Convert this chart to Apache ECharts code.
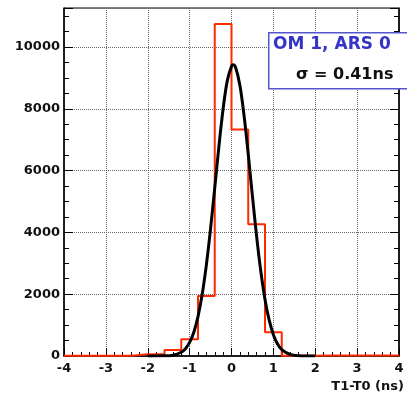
<!DOCTYPE html>
<html>
<head>
<meta charset="utf-8">
<script src="https://cdn.jsdelivr.net/npm/echarts@6/dist/echarts.min.js"></script>
<style>html,body{margin:0;padding:0;background:#fff}#c{width:407px;height:397px}</style>
</head>
<body>
<div id="c"></div>
<script>
// Histogram bin left edges (bin width 0.4 ns) and counts
var binEdges = [-4.0, -3.6, -3.2, -2.8, -2.4, -2.0, -1.6, -1.2, -0.8, -0.4, 0.0, 0.4, 0.8, 1.2, 1.6, 2.0, 2.4, 2.8, 3.2, 3.6];
var binCounts = [5, 5, 8, 10, 55, 60, 195, 540, 1940, 10740, 7330, 4260, 770, 10, 5, 20, 20, 20, 20, 20];
var histEnd = 4.0;

// Gaussian fit curve
var fitX = [-2.0, -1.6, -1.4, -1.2, -1.1, -1.0, -0.9, -0.8, -0.7, -0.6, -0.5, -0.4, -0.3, -0.2, -0.1, 0.0, 0.04, 0.1, 0.2, 0.3, 0.4, 0.5, 0.6, 0.7, 0.8, 0.9, 1.0, 1.1, 1.2, 1.4, 1.6, 2.0];
var fitY = [0, 5, 26, 121, 237, 439, 770, 1275, 1995, 2950, 4122, 5442, 6788, 8001, 8911, 9377, 9420, 9324, 8760, 7777, 6524, 5171, 3873, 2740, 1832, 1158, 691, 390, 208, 50, 10, 0];

var xTicks = [-4, -3, -2, -1, 0, 1, 2, 3, 4];
var yTicks = [0, 2000, 4000, 6000, 8000, 10000];
var xTitle = 'T1-T0 (ns)';
var boxLine1 = 'OM 1, ARS 0';
var boxLine2 = '\u03c3 = 0.41ns';

var histData = binEdges.map(function (e, i) { return [e, binCounts[i]]; });
histData.push([histEnd, binCounts[binCounts.length - 1]]);
var fitData = fitX.map(function (x, i) { return [x, fitY[i]]; });

var FONT = 'DejaVu Sans';
var chart = echarts.init(document.getElementById('c'), null, {renderer: 'canvas'});
var yMax = 11260;
chart.setOption({
  animation: false,
  backgroundColor: '#fff',
  grid: {left: 64, right: 1, top: 8, bottom: 41, show: true, borderColor: '#000', borderWidth: 1},
  xAxis: {
    type: 'value', min: xTicks[0], max: xTicks[xTicks.length - 1], interval: 1,
    axisLine: {onZero: false, lineStyle: {color: '#000', width: 1.5}},
    axisTick: {inside: true, length: 8, lineStyle: {color: '#000', width: 1}},
    minorTick: {show: true, splitNumber: 5, length: 4, lineStyle: {color: '#000', width: 1}},
    splitLine: {show: true, lineStyle: {type: 'dotted', color: '#666', width: 1}},
    axisLabel: {fontFamily: FONT, fontWeight: 'bold', fontSize: 13, color: '#111', margin: 6,
      formatter: function (v) { return String(v); }},
    name: xTitle, nameLocation: 'end', nameGap: 0,
    nameTextStyle: {fontFamily: FONT, fontWeight: 'bold', fontSize: 13, color: '#111', align: 'right', verticalAlign: 'top', padding: [24, -5, 0, 0]}
  },
  yAxis: [{
    type: 'value', min: 0, max: yMax, interval: 2000, position: 'left',
    axisLine: {show: true, onZero: false, lineStyle: {color: '#000', width: 1.5}},
    axisTick: {inside: true, length: 9, lineStyle: {color: '#000', width: 1}},
    minorTick: {show: true, splitNumber: 4, length: 5, lineStyle: {color: '#000', width: 1}},
    splitLine: {show: true, lineStyle: {type: 'dotted', color: '#666', width: 1}},
    axisLabel: {fontFamily: FONT, fontWeight: 'bold', fontSize: 13, color: '#111', margin: 4, showMaxLabel: false,
      formatter: function (v) { return yTicks.indexOf(v) >= 0 ? String(v) : ''; }}
  }, {
    type: 'value', min: 0, max: yMax, interval: 2000, position: 'right',
    axisLine: {show: true, onZero: false, lineStyle: {color: '#000', width: 1.5}},
    axisTick: {inside: true, length: 9, lineStyle: {color: '#000', width: 1}},
    minorTick: {show: true, splitNumber: 4, length: 5, lineStyle: {color: '#000', width: 1}},
    splitLine: {show: false},
    axisLabel: {show: false}
  }],
  series: [{
    type: 'line', step: 'end', data: histData, showSymbol: false, symbol: 'none',
    lineStyle: {color: '#ff2a00', width: 2}, z: 3
  }, {
    type: 'line', data: fitData, smooth: 0.35, showSymbol: false, symbol: 'none',
    lineStyle: {color: '#000', width: 3}, z: 4
  }],
  graphic: [{
    type: 'rect', left: 268, top: 32, z: 100,
    shape: {width: 150, height: 56},
    style: {fill: '#fff', stroke: '#5555cc', lineWidth: 1.5}
  }, {
    type: 'text', left: 273, top: 36, z: 101,
    style: {text: boxLine1, fontFamily: FONT, fontWeight: 'bold', fontSize: 17, fill: '#3535c5'}
  }, {
    type: 'text', left: 296, top: 67, z: 101,
    style: {text: boxLine2, fontFamily: FONT, fontWeight: 'bold', fontSize: 16, fill: '#111'}
  }]
});
</script>
</body>
</html>
